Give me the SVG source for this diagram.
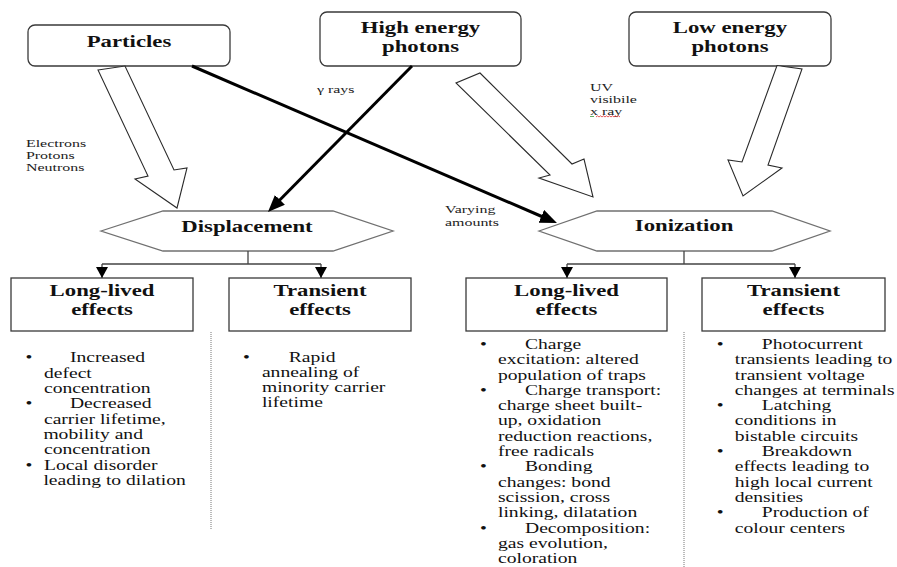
<svg xmlns="http://www.w3.org/2000/svg" width="897" height="567" viewBox="0 0 897 567">
  <style>
    .box { fill: #fff; stroke: #3a3a3a; stroke-width: 1.3; }
    .hex { fill: #fff; stroke: #707070; stroke-width: 1.3; }
    .block { fill: #fff; stroke: #2a2a2a; stroke-width: 1.1; stroke-linejoin: miter; }
    .thick { fill: none; stroke: #000; stroke-width: 3; }
    .thin { fill: none; stroke: #444; stroke-width: 1.3; }
    .dots { fill: none; stroke: #777; stroke-width: 1; stroke-dasharray: 1 1; }
    .h { font-family: "Liberation Serif", "Times New Roman", serif; font-weight: bold; font-size: 17.5px; text-anchor: middle; fill: #111; }
    .b { font-family: "Liberation Serif", "Times New Roman", serif; font-size: 14px; fill: #111; }
    .s { font-family: "Liberation Serif", "Times New Roman", serif; font-size: 11px; fill: #222; }
  </style>
  <defs>
    <marker id="head" markerUnits="userSpaceOnUse" markerWidth="20" markerHeight="16" refX="3" refY="7" orient="auto">
      <path d="M0,0 L17,7 L0,14 z" fill="#000"/>
    </marker>
    <marker id="small" markerUnits="userSpaceOnUse" markerWidth="14" markerHeight="14" refX="11" refY="6" orient="auto">
      <path d="M0,0 L11,6 L0,12 z" fill="#000"/>
    </marker>
  </defs>

  <rect width="897" height="567" fill="#fff"/>

  <!-- source boxes -->
  <g id="particles">
    <rect class="box" x="28" y="25" width="202" height="41" rx="7"/>
    <text class="h" transform="scale(1.3 1)" x="99.2" y="47">Particles</text>
  </g>
  <g id="high-energy">
    <rect class="box" x="320" y="12" width="201" height="54" rx="7"/>
    <text class="h" transform="scale(1.3 1)" x="323.5" y="33">High energy</text>
    <text class="h" transform="scale(1.3 1)" x="323.5" y="52">photons</text>
  </g>
  <g id="low-energy">
    <rect class="box" x="629" y="12" width="202" height="54" rx="7"/>
    <text class="h" transform="scale(1.3 1)" x="561.5" y="33">Low energy</text>
    <text class="h" transform="scale(1.3 1)" x="561.5" y="52">photons</text>
  </g>

  <!-- effect mechanisms -->
  <g id="displacement">
    <polygon class="hex" points="101,231 163,211 333,211 393,231 333,251 163,251"/>
    <text class="h" transform="scale(1.3 1)" x="190" y="232">Displacement</text>
  </g>
  <g id="ionization">
    <polygon class="hex" points="539,231 597,211 772,211 830,231 772,251 597,251"/>
    <text class="h" transform="scale(1.3 1)" x="526.2" y="231">Ionization</text>
  </g>

  <!-- displacement outcomes -->
  <g id="disp-long">
    <rect class="box" x="11" y="278" width="182" height="53"/>
    <text class="h" transform="scale(1.3 1)" x="78.5" y="296.5">Long-lived</text>
    <text class="h" transform="scale(1.3 1)" x="78.5" y="315.5">effects</text>
    <g class="b" transform="scale(1.4 1)">
      <text x="18.2" y="362.5">•</text>
      <text x="50" y="362.5">Increased</text>
      <text x="31.4" y="377.8">defect</text>
      <text x="31.4" y="393.1">concentration</text>
      <text x="18.2" y="408.4">•</text>
      <text x="50" y="408.4">Decreased</text>
      <text x="31.4" y="423.7">carrier lifetime,</text>
      <text x="31" y="439">mobility and</text>
      <text x="31.4" y="454.3">concentration</text>
      <text x="18.2" y="469.6">•</text>
      <text x="31.4" y="469.6">Local disorder</text>
      <text x="31" y="484.9">leading to dilation</text>
    </g>
  </g>
  <g id="disp-transient">
    <rect class="box" x="229" y="278" width="182" height="53"/>
    <text class="h" transform="scale(1.3 1)" x="246.2" y="296.5">Transient</text>
    <text class="h" transform="scale(1.3 1)" x="246.2" y="315.5">effects</text>
    <g class="b" transform="scale(1.4 1)">
      <text x="173.6" y="362.5">•</text>
      <text x="206.2" y="362.5">Rapid</text>
      <text x="187.1" y="377.5">annealing of</text>
      <text x="187.1" y="392.5">minority carrier</text>
      <text x="187.1" y="407">lifetime</text>
    </g>
  </g>

  <!-- ionization outcomes -->
  <g id="ion-long">
    <rect class="box" x="466" y="278" width="201" height="53"/>
    <text class="h" transform="scale(1.3 1)" x="435.8" y="296.5">Long-lived</text>
    <text class="h" transform="scale(1.3 1)" x="435.8" y="315.5">effects</text>
    <g class="b" transform="scale(1.4 1)">
      <text x="342.9" y="349">•</text>
      <text x="375" y="349">Charge</text>
      <text x="355.7" y="364.3">excitation: altered</text>
      <text x="355.7" y="379.6">population of traps</text>
      <text x="342.9" y="394.9">•</text>
      <text x="375" y="394.9">Charge transport:</text>
      <text x="355.7" y="410.2">charge sheet built-</text>
      <text x="355.7" y="425.5">up, oxidation</text>
      <text x="355.7" y="440.8">reduction reactions,</text>
      <text x="355.7" y="456.1">free radicals</text>
      <text x="342.9" y="471.4">•</text>
      <text x="375" y="471.4">Bonding</text>
      <text x="355.7" y="486.7">changes: bond</text>
      <text x="355.7" y="502">scission, cross</text>
      <text x="355.7" y="517.3">linking, dilatation</text>
      <text x="342.9" y="532.6">•</text>
      <text x="375" y="532.6">Decomposition:</text>
      <text x="355.7" y="547.9">gas evolution,</text>
      <text x="355.7" y="563.2">coloration</text>
    </g>
  </g>
  <g id="ion-transient">
    <rect class="box" x="702" y="278" width="183" height="53"/>
    <text class="h" transform="scale(1.3 1)" x="610.4" y="296.5">Transient</text>
    <text class="h" transform="scale(1.3 1)" x="610.4" y="315.5">effects</text>
    <g class="b" transform="scale(1.4 1)">
      <text x="511.9" y="349">•</text>
      <text x="544.1" y="349">Photocurrent</text>
      <text x="524.8" y="364.3">transients leading to</text>
      <text x="524.8" y="379.6">transient voltage</text>
      <text x="524.8" y="394.9">changes at terminals</text>
      <text x="511.9" y="410.2">•</text>
      <text x="544.1" y="410.2">Latching</text>
      <text x="524.8" y="425.5">conditions in</text>
      <text x="524.8" y="440.8">bistable circuits</text>
      <text x="511.9" y="456.1">•</text>
      <text x="544.1" y="456.1">Breakdown</text>
      <text x="524.8" y="471.4">effects leading to</text>
      <text x="524.8" y="486.7">high local current</text>
      <text x="524.8" y="502">densities</text>
      <text x="511.9" y="517.3">•</text>
      <text x="544.1" y="517.3">Production of</text>
      <text x="524.8" y="532.6">colour centers</text>
    </g>
  </g>

  <!-- connectors -->
  <g id="connectors">
    <!-- hollow block arrows -->
    <polygon class="block" points="98,70 125,66 174,170 187,168 177,208 135,179 148,176"/>
    <polygon class="block" points="480,73 572,164 584,159 593,197 539,178 550,175 456,83"/>
    <polygon class="block" points="777,65.5 802,69 768,165 782,168 743,196 728,160 742,162"/>

    <!-- solid arrows -->
    <line class="thick" x1="192" y1="66" x2="544.1" y2="217.5" marker-end="url(#head)"/>
    <line class="thick" x1="412" y1="66" x2="277.8" y2="202" marker-end="url(#head)"/>

    <!-- branch lines below the mechanisms -->
    <path class="thin" d="M248,251 V264 M102,264 H321 M684,251 V264 M567,264 H795"/>
    <path class="thin" d="M102,264 V278" marker-end="url(#small)"/>
    <path class="thin" d="M321,264 V278" marker-end="url(#small)"/>
    <path class="thin" d="M567,264 V278" marker-end="url(#small)"/>
    <path class="thin" d="M795,264 V278" marker-end="url(#small)"/>

    <!-- column separators -->
    <line class="dots" x1="211" y1="332" x2="211" y2="530"/>
    <line class="dots" x1="684" y1="332" x2="684" y2="567"/>
  </g>

  <!-- arrow labels -->
  <g class="s" transform="scale(1.45 1)">
    <text x="17.9" y="147">Electrons</text>
    <text x="17.9" y="159">Protons</text>
    <text x="17.9" y="171">Neutrons</text>
    <text x="218.6" y="93">γ rays</text>
    <text x="406.9" y="91">UV</text>
    <text x="406.9" y="103.5">visibile</text>
    <text x="406.9" y="115">x ray</text>
    <text x="306.9" y="213">Varying</text>
    <text x="306.9" y="226">amounts</text>
  </g>
  <!-- spell-check underlines under "x ray" -->
  <path d="M590,117 l1,-1 l1,1 l1,-1 l1,1" fill="none" stroke="#3a9a3a" stroke-width="0.8"/>
  <path d="M596,117 l1.5,-1.2 l1.5,1.2 l1.5,-1.2 l1.5,1.2 l1.5,-1.2 l1.5,1.2 l1.5,-1.2 l1.5,1.2 l1.5,-1.2 l1.5,1.2 l1.5,-1.2 l1.5,1.2 l1.5,-1.2 l1.5,1.2 l1.5,-1.2 l1.5,1.2" fill="none" stroke="#e03030" stroke-width="0.8"/>
</svg>
